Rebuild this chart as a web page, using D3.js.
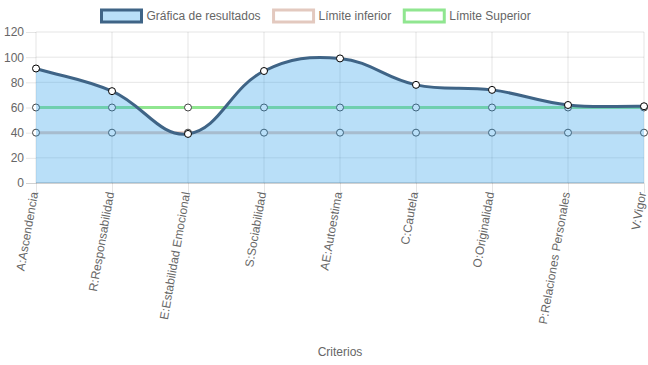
<!DOCTYPE html>
<html><head><meta charset="utf-8">
<script src="https://cdn.jsdelivr.net/npm/d3@7"></script>
<style>body{margin:0;background:#fff}svg{display:block}text{font-family:"Liberation Sans",Arial,Helvetica,sans-serif;}</style>
</head><body>
<svg id="c" width="648" height="365"></svg>
<script>
const categories = ["A:Ascendencia","R:Responsabilidad","E:Estabilidad Emocional","S:Sociabilidad","AE:Autoestima","C:Cautela","O:Originalidad","P:Relaciones Personales","V:Vigor"];
const resultados = [91,73,39,89,99,78,74,62,61];
const limiteInferior = [40,40,40,40,40,40,40,40,40];
const limiteSuperior = [60,60,60,60,60,60,60,60,60];
const yTicks = [0,20,40,60,80,100,120];
const seriesNames = ["Gráfica de resultados","Límite inferior","Límite Superior"];

const svg = d3.select("#c");
const L=36, R=644, T=32, B=183;
const x = d3.scalePoint().domain(categories).range([L,R]);
const y = d3.scaleLinear().domain([0,120]).range([B,T]);
const grid = "rgba(0,0,0,0.1)";
const txt = "#666";

const yAxis = d3.axisLeft(y).tickValues(yTicks).tickSize(10).tickPadding(2);
const gy = svg.append("g").attr("transform",`translate(${L},0)`).call(yAxis);
gy.select(".domain").remove();
gy.selectAll(".tick line").attr("stroke",d=>d===0?"rgba(0,0,0,0.18)":grid);
gy.selectAll(".tick text").attr("fill",txt).style("font-size","12px");
svg.append("g").selectAll("line").data(yTicks).join("line")
  .attr("x1",L).attr("x2",R).attr("y1",d=>y(d)).attr("y2",d=>y(d))
  .attr("stroke",d=>d===0?"rgba(0,0,0,0.18)":grid).attr("stroke-width",d=>d===0?2:1);

const xAxis = d3.axisBottom(x).tickSize(10).tickFormat("");
const gx = svg.append("g").attr("transform",`translate(0,${B})`).call(xAxis);
gx.select(".domain").remove();
gx.selectAll(".tick line").attr("stroke",grid);
svg.append("g").selectAll("line").data(categories).join("line")
  .attr("x1",d=>x(d)).attr("x2",d=>x(d)).attr("y1",T).attr("y2",B)
  .attr("stroke",grid);

svg.append("g").selectAll("text").data(categories).join("text")
  .attr("transform",d=>`translate(${x(d)-2},${192}) rotate(-80)`)
  .attr("text-anchor","end").attr("dy","0.35em")
  .attr("fill",txt).style("font-size","12px").text(d=>d);

svg.append("text").attr("x",(L+R)/2).attr("y",356).attr("text-anchor","middle")
  .attr("fill",txt).style("font-size","12px").text("Criterios");

function splinePath(vals){
  const pts = vals.map((v,i)=>({x:x(categories[i]),y:y(v)}));
  const t=0.4;
  pts.forEach((p,i)=>{
    const prev = pts[i-1]||p, next = pts[i+1]||p;
    const d01=Math.hypot(p.x-prev.x,p.y-prev.y), d12=Math.hypot(next.x-p.x,next.y-p.y);
    let s01=d01/(d01+d12), s12=d12/(d01+d12);
    if(isNaN(s01))s01=0; if(isNaN(s12))s12=0;
    const fa=t*s01, fb=t*s12;
    p.cpPx=p.x-fa*(next.x-prev.x); p.cpPy=p.y-fa*(next.y-prev.y);
    p.cpNx=p.x+fb*(next.x-prev.x); p.cpNy=p.y+fb*(next.y-prev.y);
    const clampX=v=>Math.max(L,Math.min(R,v)), clampY=v=>Math.max(T,Math.min(B,v));
    p.cpPx=clampX(p.cpPx);p.cpNx=clampX(p.cpNx);p.cpPy=clampY(p.cpPy);p.cpNy=clampY(p.cpNy);
  });
  const path=d3.path();
  path.moveTo(pts[0].x,pts[0].y);
  for(let i=1;i<pts.length;i++){
    const a=pts[i-1],b=pts[i];
    path.bezierCurveTo(a.cpNx,a.cpNy,b.cpPx,b.cpPy,b.x,b.y);
  }
  return {d:path.toString(),pts};
}

function drawLimit(vals,color){
  const line=d3.line().x((d,i)=>x(categories[i])).y(d=>y(d));
  svg.append("path").attr("d",line(vals)).attr("fill","none").attr("stroke",color).attr("stroke-width",3);
  svg.append("g").selectAll("circle").data(vals).join("circle")
    .attr("cx",(d,i)=>x(categories[i])).attr("cy",d=>y(d)).attr("r",3.5)
    .attr("fill","#fff").attr("stroke","#444").attr("stroke-width",1);
}
const supColor="#90e690", infColor="#e3c9bf", resLine="#3f6486", resFill="rgba(54,162,235,0.35)";
drawLimit(limiteSuperior,supColor);
drawLimit(limiteInferior,infColor);

const sp=splinePath(resultados);
svg.append("path").attr("d",sp.d+`L${R},${y(0)}L${L},${y(0)}Z`).attr("fill",resFill);
svg.append("path").attr("d",sp.d).attr("fill","none").attr("stroke",resLine).attr("stroke-width",3);
svg.append("g").selectAll("circle").data(resultados).join("circle")
  .attr("cx",(d,i)=>x(categories[i])).attr("cy",d=>y(d)).attr("r",3.5)
  .attr("fill","#fff").attr("stroke","#000").attr("stroke-width",1);

const legendItems=[
  {name:seriesNames[0],fill:resFill,stroke:resLine},
  {name:seriesNames[1],fill:"#fff",stroke:infColor},
  {name:seriesNames[2],fill:"#fff",stroke:supColor}
];
const lg=svg.append("g");
const widths=[];
legendItems.forEach(it=>{
  const t=lg.append("text").style("font-size","12px").text(it.name);
  widths.push(t.node().getComputedTextLength()); t.remove();
});
const itemW=widths.map(w=>40+5+w+13);
let cx=101.5;
legendItems.forEach((it,i)=>{
  lg.append("rect").attr("x",cx).attr("y",10).attr("width",40).attr("height",12)
    .attr("fill",it.fill).attr("stroke",it.stroke).attr("stroke-width",3);
  lg.append("text").attr("x",cx+45).attr("y",16).attr("dy","0.35em")
    .attr("fill",txt).style("font-size","12px").text(it.name);
  cx+=itemW[i];
});
</script>
</body></html>
